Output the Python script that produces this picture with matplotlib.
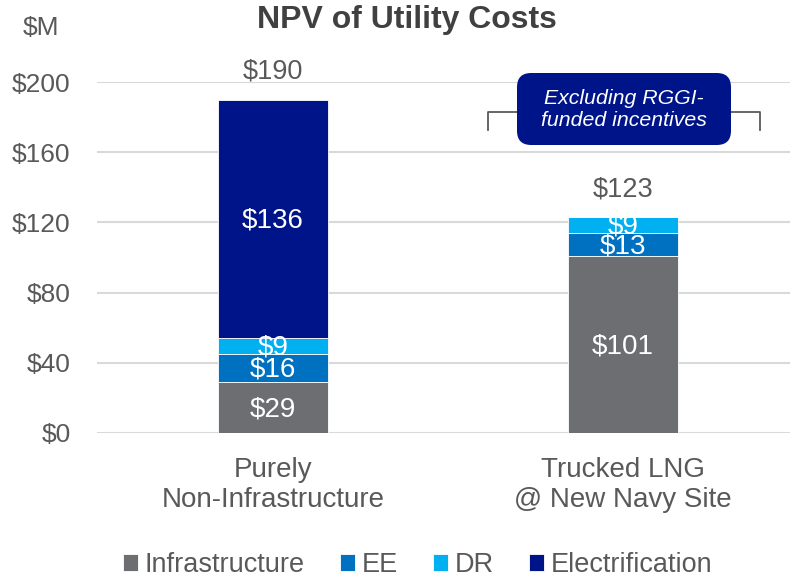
import matplotlib.pyplot as plt
from matplotlib.patches import FancyBboxPatch

plt.rcParams['font.family'] = ['Liberation Sans', 'DejaVu Sans']

# ----------------------------
# Data
# ----------------------------
categories = ["Purely\nNon-Infrastructure", "Trucked LNG\n@ New Navy Site"]
series_names = ["Infrastructure", "EE", "DR", "Electrification"]
infrastructure = [29, 101]
ee = [16, 13]
dr = [9, 9]
electrification = [136, 0]
totals = [190, 123]
colors = ["#6D6E71", "#0070C0", "#00B0F0", "#001489"]
yticks = [0, 40, 80, 120, 160, 200]

text_grey = "#595959"

fig = plt.figure(figsize=(7.9, 5.77), dpi=100)
W, H = 790, 577
ax = fig.add_axes([97 / W, 144 / H, (790 - 97) / W, 351 / H])

x = list(range(len(categories)))
bottom = [0, 0]
for name, vals, col in zip(series_names, [infrastructure, ee, dr, electrification], colors):
    ax.bar(x, vals, width=0.314, bottom=bottom, color=col, label=name,
           edgecolor="white", linewidth=0.6, zorder=3)
    for i, v in enumerate(vals):
        if v > 0:
            ax.text(x[i], bottom[i] + v / 2 - 1, f"${v}", ha="center", va="center",
                    color="white", fontsize=20, zorder=4)
    bottom = [b + v for b, v in zip(bottom, vals)]

for i, t in enumerate(totals):
    ax.text(x[i], t + 16, f"${t}", ha="center", va="center", color=text_grey, fontsize=19.5)

ax.set_xlim(-0.503, 1.477)
ax.set_ylim(0, 200)
ax.set_yticks(yticks)
ax.set_yticklabels([f"${v}" for v in yticks], fontsize=19, color=text_grey)
ax.set_xticks(x)
ax.set_xticklabels(categories, fontsize=20, color=text_grey, linespacing=1.2)
ax.tick_params(length=0)
ax.tick_params(axis="x", pad=17)
ax.tick_params(axis="y", pad=19)
ax.yaxis.grid(True, color="#D9D9D9", linewidth=1.5, zorder=0)
for s in ax.spines.values():
    s.set_visible(False)

# title and unit
fig.text(407 / W, 1 - 20 / H, "NPV of Utility Costs", ha="center", va="center",
         fontsize=23, fontweight="bold", color="#404040")
fig.text(41 / W, 1 - 28 / H, "$M", ha="center", va="center", fontsize=19, color=text_grey)

# bracket
bx0, bx1 = (488 - 273) / 350, (760 - 273) / 350
ax.plot([bx0, bx0, bx1, bx1], [172.5, 183, 183, 172.5], color="#595959",
        linewidth=1.3, clip_on=False, zorder=5)

# callout box
box = FancyBboxPatch((517 / W, 1 - 145 / H), 214 / W, 72 / H,
                     boxstyle="round,pad=0,rounding_size=0.018",
                     mutation_aspect=W / H, transform=fig.transFigure,
                     facecolor="#001489", edgecolor="none", zorder=6)
fig.patches.append(box)
fig.text(624 / W, 1 - 110 / H, "Excluding RGGI-\nfunded incentives", ha="center",
         va="center", fontsize=15.3, style="italic", color="white", linespacing=1.2,
         zorder=7)

# legend
leg = fig.legend(loc="center", bbox_to_anchor=(418 / W, 1 - 565 / H), ncol=4,
                 frameon=False, fontsize=19.5, handlelength=0.55, handleheight=0.55,
                 handletextpad=0.25, columnspacing=1.3, borderaxespad=0)
for t in leg.get_texts():
    t.set_color(text_grey)

fig.savefig("out.png", dpi=100)
